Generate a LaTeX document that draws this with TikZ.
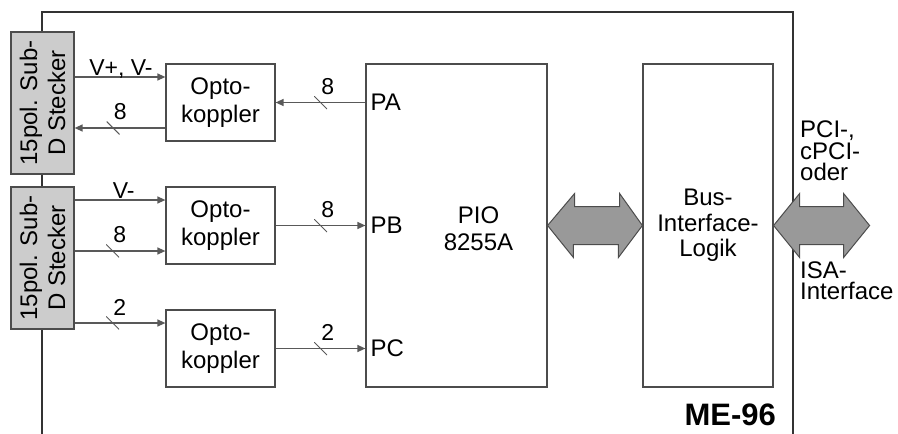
\documentclass[tikz,border=0pt]{standalone}
\usepackage{fontspec}
\setmainfont{Liberation Sans}
\usetikzlibrary{arrows.meta,positioning,calc}

\begin{document}
\begin{tikzpicture}[x=1pt, y=-1pt,
        every node/.style={font=\fontsize{24}{28}\selectfont, inner sep=0pt},
        box/.style={rectangle, draw=black!70, line width=1.2pt, fill=white},
        stecker/.style={box, fill=black!20, minimum width=63pt, minimum height=142pt},
        opto/.style={box, minimum width=109pt, minimum height=77pt, align=center},
        sig/.style={draw=black!65, line width=1.3pt, -{Triangle[length=8pt, width=7pt]}},
        lbl/.style={font=\fontsize{23}{23}\selectfont},
        wd/.style={minimum size=13pt, path picture={\draw[-, black!65, line width=1pt] (path picture bounding box.north west) -- (path picture bounding box.south east);}, label={[lbl, anchor=south]north east:#1}},
        busarrow/.style={draw=black!70, line width=1pt, fill=black!40}]
                \useasboundingbox (0,0) rectangle (898,434);
                \draw[black!80, line width=1.2pt] (42,434) -- (42,12) -- (793,12) -- (793,434);

                \node[stecker] (st1) at (42.5,103) {};
                \node[rotate=90, align=center] at (st1) {15pol. Sub-\\D Stecker};
                \node[stecker] (st2) at (42.5,258) {};
                \node[rotate=90, align=center] at (st2) {15pol. Sub-\\D Stecker};

                \node[opto] (opto1) at (220.5,102.5) {Opto-\\koppler};
                \node[opto] (opto2) at (220.5,225.5) {Opto-\\koppler};
                \node[opto] (opto3) at (220.5,348.5) {Opto-\\koppler};

                \node[box, minimum width=181pt, minimum height=323pt] (pio) at (456.5,225.5) {};
                \node[align=center, font=\fontsize{24}{27}\selectfont] at ([xshift=22pt, yshift=-3.5pt]pio.center) {PIO\\8255A};
                \node[anchor=west, xshift=5pt] at (opto1.east -| pio.west) {PA};
                \node[anchor=west, xshift=5pt] at (opto2.east -| pio.west) {PB};
                \node[anchor=west, xshift=5pt] at (opto3.east -| pio.west) {PC};

                \node[box, minimum width=130pt, minimum height=323pt, align=center, font=\fontsize{24}{25.5}\selectfont] (bus) at (708,225.5) {Bus-\\Interface-\\Logik};

                \draw[sig] (st1.east |- 0,77) -- node[pos=0.51, anchor=base, yshift=2pt, lbl] {V+, V-} (opto1.west |- 0,77);
                \draw[sig] (opto1.west |- 0,128) -- node[wd=8, pos=0.576] {} (st1.east |- 0,128);
                \draw[sig] (opto1.east -| pio.west) -- node[wd=8] {} (opto1.east);
                \draw[sig] (st2.east |- 0,200) -- node[pos=0.54, anchor=base, yshift=2pt, lbl] {V-} (opto2.west |- 0,200);
                \draw[sig] (st2.east |- 0,251) -- node[wd=8, pos=0.42] {} (opto2.west |- 0,251);
                \draw[sig] (st2.east |- 0,323) -- node[wd=2, pos=0.42] {} (opto3.west |- 0,323);
                \draw[sig] (opto2.east) -- node[wd=8] {} (opto2.east -| pio.west);
                \draw[sig] (opto3.east) -- node[wd=2] {} (opto3.east -| pio.west);

                \draw[busarrow] (pio.east) -- ++(27,-32) -- ++(0,13) -- ++(45,0) -- ++(0,-13) -- (bus.west) -- ++(-24,32) -- ++(0,-13) -- ++(-45,0) -- ++(0,13) -- cycle;
                \coordinate (host) at ([xshift=96pt]bus.east);
                \draw[busarrow] (bus.east) -- ++(26,-32) -- ++(0,13) -- ++(44,0) -- ++(0,-13) -- (host) -- ++(-26,32) -- ++(0,-13) -- ++(-44,0) -- ++(0,13) -- cycle;

                \node[anchor=south west, align=left, font=\fontsize{24}{21.5}\selectfont] at (800,181) {PCI-,\\cPCI-\\oder};
                \node[anchor=south west, align=left, font=\fontsize{24}{21.5}\selectfont] at (800,300) {ISA-\\Interface};
                \node[anchor=base east, font=\bfseries\fontsize{31}{31}\selectfont] at (776,425) {ME-96};
\end{tikzpicture}
\end{document}
